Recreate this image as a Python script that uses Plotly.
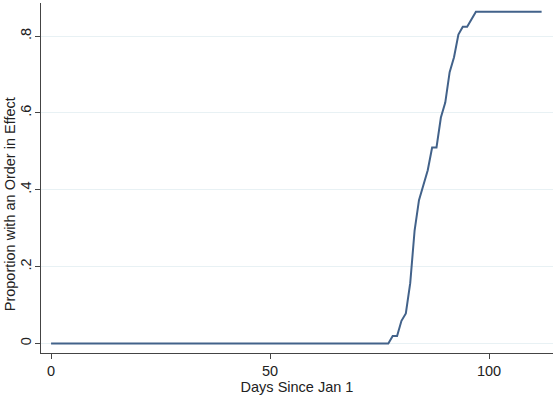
import plotly.graph_objects as go

days = list(range(0, 113))
# proportion with an order in effect (0 until day 77)
rise_days = [78, 79, 80, 81, 82, 83, 84, 85, 86, 87, 88, 89, 90, 91, 92, 93, 94, 95, 96, 97]
rise_vals = [0.0196, 0.0196, 0.059, 0.078, 0.157, 0.294, 0.373, 0.412, 0.451, 0.510, 0.510,
             0.588, 0.627, 0.706, 0.745, 0.804, 0.824, 0.824, 0.843, 0.863]
final_val = 0.863

lookup = dict(zip(rise_days, rise_vals))
props = []
for d in days:
    if d < rise_days[0]:
        props.append(0.0)
    elif d in lookup:
        props.append(lookup[d])
    else:
        props.append(final_val)

x_ticks = [0, 50, 100]
y_ticks = [0, 0.2, 0.4, 0.6, 0.8]
y_ticklabels = ["0", ".2", ".4", ".6", ".8"]
x_title = "Days Since Jan 1"
y_title = "Proportion with an Order in Effect"

font = "Liberation Sans, Arial, sans-serif"

fig = go.Figure()
fig.add_trace(go.Scatter(x=days, y=props, mode="lines",
                         line=dict(color="#42628a", width=2), showlegend=False))

fig.update_layout(
    width=553, height=395,
    margin=dict(l=41, r=0, t=3, b=42),
    paper_bgcolor="white", plot_bgcolor="white",
    font=dict(family=font, size=14.5, color="#222222"),
)
fig.update_xaxes(
    range=[-2.3, 114.6], tickvals=x_ticks, ticks="outside", ticklen=5,
    tickcolor="#444", showline=True, linecolor="#444", linewidth=1,
    showgrid=False, zeroline=False, automargin=False,
    title=dict(text=x_title, standoff=2, font=dict(size=14.5)),
)
fig.update_yaxes(
    range=[-0.0248, 0.886], tickvals=y_ticks, ticktext=y_ticklabels,
    tickangle=-90, ticks="outside", ticklen=5, tickcolor="#444",
    ticklabelstandoff=-2,
    showline=True, linecolor="#444", linewidth=1,
    showgrid=True, gridcolor="#e8f1f4", gridwidth=1, zeroline=False,
    automargin=False,
)
fig.add_annotation(text=y_title, textangle=-90, xref="paper", yref="paper",
                   x=-0.0605, xanchor="center", y=0.425, yanchor="middle",
                   showarrow=False, font=dict(size=14.5, color="#222222"))
fig.write_html("out.html", config={"displayModeBar": False},
               post_script="document.body.style.margin='0';")
